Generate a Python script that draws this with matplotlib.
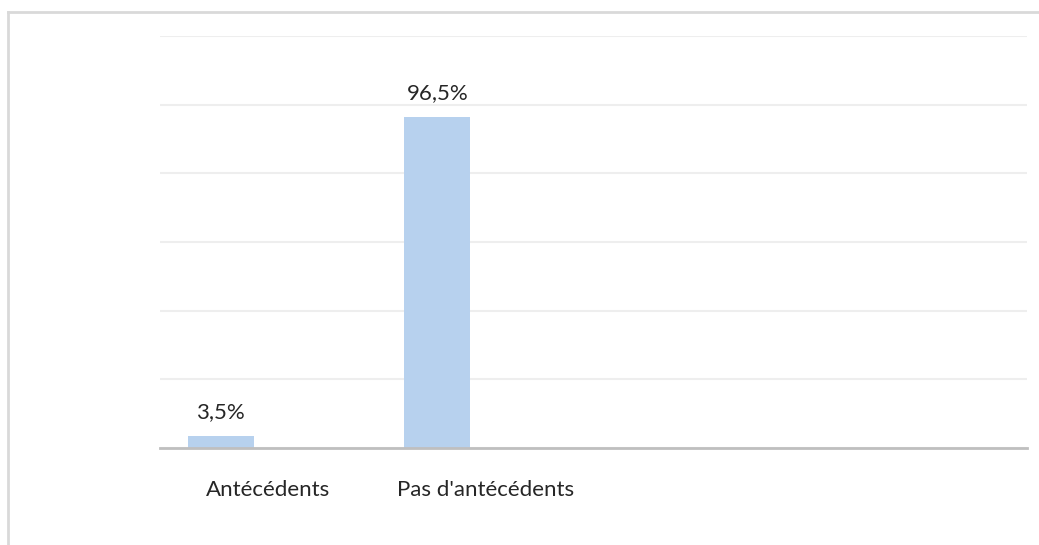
import matplotlib.pyplot as plt
from matplotlib.lines import Line2D

# chart data
categories = ['Antécédents', "Pas d'antécédents", '', '']
values = [3.5, 96.5, 0, 0]
value_labels = ['3,5%', '96,5%', '', '']

plt.rcParams['font.family'] = ['Lato', 'DejaVu Sans']

fig = plt.figure(figsize=(10.39, 5.45), dpi=100)
ax = fig.add_axes([160 / 1039, 1 - 448 / 545, (1027 - 160) / 1039, (448 - 36) / 545])

x = list(range(len(categories)))
shift = -0.22  # bars sit left of the category centre (clustered layout)
bx = [i + shift for i in x]
ax.bar(bx, values, width=0.305, color='#b7d1ee', zorder=2)

for xi, v, lab in zip(bx, values, value_labels):
    if lab:
        ax.annotate(lab, (xi, v), xytext=(0, 24), textcoords='offset pixels',
                    ha='center', va='center', fontsize=16, color='#262626')

ax.set_xlim(-0.5, len(categories) - 0.5)
ax.set_ylim(0, 120)
ax.set_yticks(range(0, 121, 20))
ax.yaxis.grid(True, color='#eeeeee', linewidth=1.5, zorder=0)
ax.tick_params(axis='y', left=False, labelleft=False)
ax.set_xticks(x)
ax.set_xticklabels(categories, fontsize=16, color='#262626')
ax.tick_params(axis='x', length=0, pad=23)

for side in ['top', 'right', 'left']:
    ax.spines[side].set_visible(False)
ax.spines['bottom'].set_color('#bfbfbf')
ax.spines['bottom'].set_linewidth(2)
ax.spines['bottom'].set_zorder(3)

# chart area border (top and left only visible in the crop)
fig.add_artist(Line2D([8 / 1039, 8 / 1039], [0, 1 - 12 / 545], color='#d9d9d9', linewidth=2))
fig.add_artist(Line2D([8 / 1039, 1], [1 - 12 / 545, 1 - 12 / 545], color='#d9d9d9', linewidth=2))

fig.savefig('out.png', dpi=100)
